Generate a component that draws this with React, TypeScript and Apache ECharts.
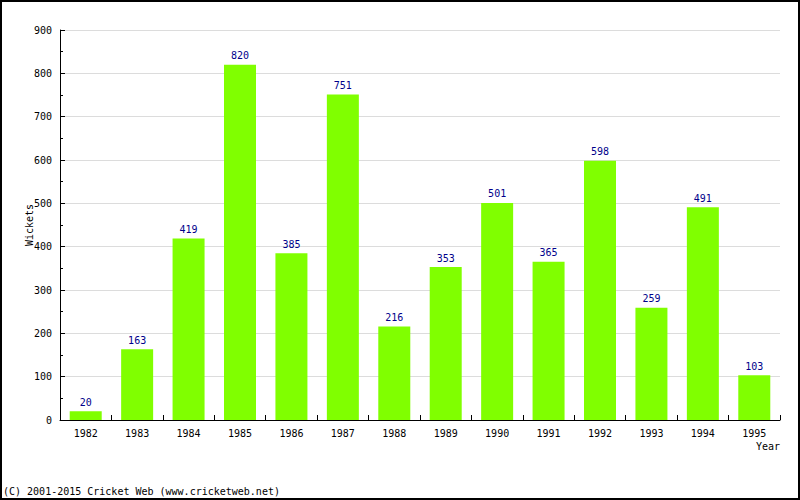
import React, { useEffect, useRef } from "react";
import * as echarts from "echarts";

const years = ["1982","1983","1984","1985","1986","1987","1988","1989","1990","1991","1992","1993","1994","1995"];
const wickets = [20,163,419,820,385,751,216,353,501,365,598,259,491,103];
const FONT = "DejaVu Sans Mono";
const FS = 10;

export default function App() {
  const ref = useRef<HTMLDivElement>(null);
  useEffect(() => {
    const chart = echarts.init(ref.current!, null, { renderer: "svg" });
    chart.setOption({
      animation: false,
      backgroundColor: "#ffffff",
      grid: { left: 60, right: 20, top: 30, bottom: 80 },
      xAxis: {
        type: "category",
        data: years,
        name: "Year",
        nameLocation: "end",
        nameGap: 0,
        nameTextStyle: { fontFamily: FONT, fontSize: FS, color: "#000", align: "right", verticalAlign: "top", padding: [21, 0, 0, 0] },
        axisLine: { lineStyle: { color: "#000", width: 1 } },
        axisTick: { show: true, inside: true, length: 5, lineStyle: { color: "#000" } },
        axisLabel: { fontFamily: FONT, fontSize: FS, color: "#000", margin: 8 },
      },
      yAxis: {
        type: "value",
        min: 0,
        max: 900,
        interval: 100,
        name: "Wickets",
        nameLocation: "middle",
        nameGap: 26,
        nameMoveOverlap: false,
        nameRotate: 90,
        nameTextStyle: { fontFamily: FONT, fontSize: FS, color: "#000" },
        axisLine: { show: true, lineStyle: { color: "#000", width: 1 } },
        axisTick: { show: true, inside: true, length: 5, lineStyle: { color: "#000" } },
        minorTick: { show: true, splitNumber: 2, length: 3, lineStyle: { color: "#000" } },
        axisLabel: { fontFamily: FONT, fontSize: FS, color: "#000", margin: 8 },
        splitLine: { show: true, lineStyle: { color: "#dcdcdc", width: 1 } },
      },
      series: [
        {
          type: "bar",
          data: wickets,
          barWidth: 32,
          itemStyle: { color: "#80ff00" },
          label: { show: true, position: "top", distance: 4, fontFamily: FONT, fontSize: FS, color: "#00008b" },
        },
      ],
      graphic: [
        {
          type: "rect",
          shape: { x: 1, y: 1, width: 798, height: 498 },
          style: { fill: "none", stroke: "#000", lineWidth: 2 },
          silent: true,
        },
        {
          type: "text",
          left: 3,
          top: 486,
          style: { text: "(C) 2001-2015 Cricket Web (www.cricketweb.net)", fontFamily: FONT, fontSize: FS, fill: "#000" },
        },
      ],
    });
    return () => chart.dispose();
  }, []);
  return <div ref={ref} style={{ position: "fixed", left: 0, top: 0, width: 800, height: 500 }} />;
}
